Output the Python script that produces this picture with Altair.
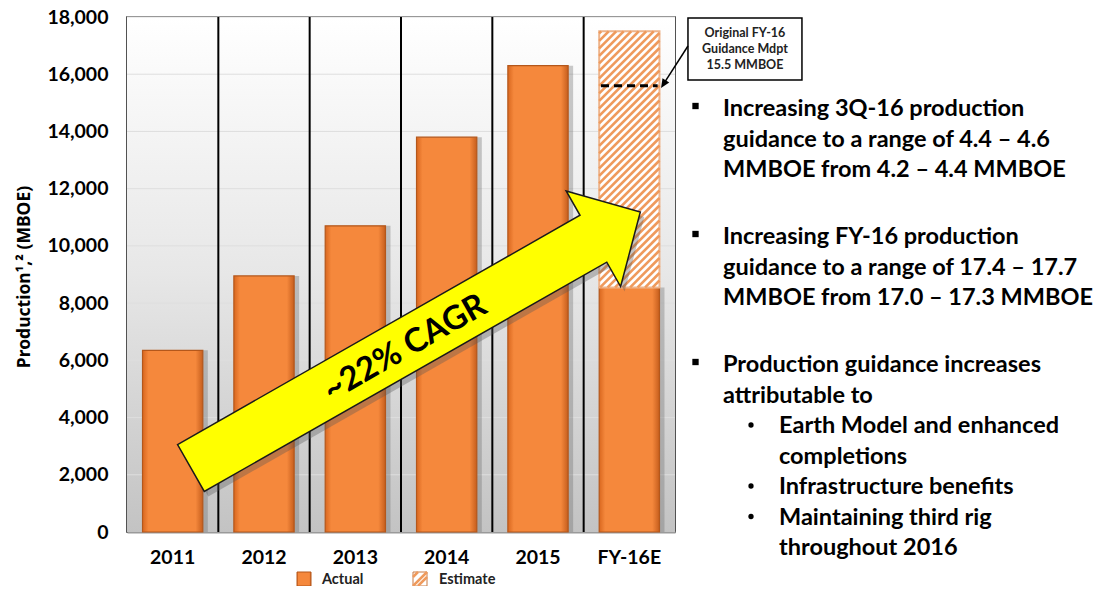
import math
import altair as alt
import pandas as pd

# ---------------- data ----------------
categories = ["2011", "2012", "2013", "2014", "2015", "FY-16E"]
actual = [6350, 8950, 10700, 13800, 16300, 8550]
estimate_category = "FY-16E"
estimate_low = 8550
estimate_high = 17500
guidance_midpoint = 15600
y_ticks = [0, 2000, 4000, 6000, 8000, 10000, 12000, 14000, 16000, 18000]
legend_labels = ["Actual", "Estimate"]
callout_lines = ["Original FY-16", "Guidance Mdpt", "15.5 MMBOE"]
cagr_label = "~22% CAGR"
y_title = "Production\u00b9,\u00b2 (MBOE)"
bullet_items = [
    ("main", ["Increasing 3Q-16 production", "guidance to a range of 4.4 \u2013 4.6", "MMBOE from 4.2 \u2013 4.4 MMBOE"]),
    ("main", ["Increasing FY-16 production", "guidance to a range of 17.4 \u2013 17.7", "MMBOE from 17.0 \u2013 17.3 MMBOE"]),
    ("main", ["Production guidance increases", "attributable to"]),
    ("sub", ["Earth Model and enhanced", "completions"]),
    ("sub", ["Infrastructure benefits"]),
    ("sub", ["Maintaining third rig", "throughout 2016"]),
]

# ---------------- layout ----------------
W, H = 548, 515
N = len(categories)
YMAX = 18000
P_IN, P_OUT = 0.34, 0.17
FONT = "Lato"
ORANGE = "#F5883C"
ORANGE_DARK = "#B4571B"
HATCH = "#EF9A5C"
TXT = 23.5


def px_x(u):
    return u * W / N


def px_y(v):
    return H - v * H / YMAX


def u_of(px):
    return px * N / W


def v_of(py):
    return (H - py) * YMAX / H


y_scale = alt.Scale(domain=[0, YMAX], nice=False, zero=True)
y_axis = alt.Axis(
    values=y_ticks, labelExpr="format(datum.value, ',')", grid=False, ticks=False, domain=False,
    labelFont=FONT, labelFontWeight="bold", labelFontSize=19.5, labelColor="black",
    labelPadding=19, title=y_title, titleFont="Noto Sans", titleFontWeight="bold",
    titleFontSize=17.5, titleColor="black", titleAngle=270, titleX=-103, titleY=H / 2 + 2,
    titleAlign="center", titleBaseline="middle",
)


def Y(field):
    return alt.Y(field, type="quantitative", scale=y_scale, axis=y_axis)


x_scale = alt.Scale(domain=categories, paddingInner=P_IN, paddingOuter=P_OUT)
x_axis = alt.Axis(
    title=None, labelAngle=0, labelFont=FONT, labelFontWeight="bold", labelFontSize=19.5,
    labelColor="black", labelPadding=16, ticks=False, domain=True, domainColor="#9a9a9a",
    domainWidth=2,
)
X = alt.X("cat:N", sort=categories, scale=x_scale, axis=x_axis)

U_SCALE = alt.Scale(domain=[0, N], nice=False, zero=False)


def U(field):
    return alt.X(field, type="quantitative", scale=U_SCALE, axis=None)


one = alt.Data(values=[{}])

# ---------------- base (band) layers ----------------
bar_df = pd.DataFrame({"cat": categories, "value": actual})
est_df = pd.DataFrame({"cat": [estimate_category], "value": [estimate_low], "high": [estimate_high]})
grid_df = pd.DataFrame({"value": y_ticks[1:]})

background = alt.Chart(one).mark_rect(
    color=alt.LinearGradient(
        gradient="linear", x1=0, x2=0, y1=0, y2=1,
        stops=[alt.GradientStop(color="#ffffff", offset=0),
               alt.GradientStop(color="#e7e7e7", offset=0.5),
               alt.GradientStop(color="#c3c3c3", offset=1)],
    )
).encode(x=alt.value(0), x2=alt.value(W), y=alt.value(0), y2=alt.value(H))

grid = alt.Chart(grid_df).mark_rule(color="#dedede", strokeWidth=1).encode(
    y=Y("value"), x=alt.value(0), x2=alt.value(W)
)

shadow = alt.Chart(bar_df).mark_bar(color="#6a6a6a", opacity=0.35, xOffset=5).encode(
    x=X, y=Y("value")
)

bar_fill = alt.LinearGradient(
    gradient="linear", x1=0, x2=1, y1=0, y2=0,
    stops=[alt.GradientStop(color="#D9671F", offset=0),
           alt.GradientStop(color=ORANGE, offset=0.1),
           alt.GradientStop(color=ORANGE, offset=0.88),
           alt.GradientStop(color="#C65E1D", offset=1)],
)
bars = alt.Chart(bar_df).mark_bar(fill=bar_fill, stroke=ORANGE_DARK, strokeWidth=1.2).encode(
    x=X, y=Y("value")
)

est_rect = alt.Chart(est_df).mark_bar(fill="white", stroke="#EDB48C", strokeWidth=2).encode(
    x=X, y=Y("value"), y2="high"
)

base = alt.layer(background, grid, shadow, bars, est_rect)

# ---------------- annotation (continuous x) layers ----------------
est_idx = categories.index(estimate_category)
bx0, bx1 = est_idx + P_OUT, est_idx + 1 - P_OUT

div_df = pd.DataFrame({"u": list(range(1, N))})
dividers = alt.Chart(div_df).mark_rule(color="black", strokeWidth=2).encode(
    x=U("u"), y=alt.value(0), y2=alt.value(H)
)

px0, px1 = px_x(bx0), px_x(bx1)
ptop, pbot = px_y(estimate_high), px_y(estimate_low)
step = 7.5
rows = []
c = ptop + px0 + 2
while c < pbot + px1:
    xs = max(px0, c - pbot)
    xe = min(px1, c - ptop)
    if xe - xs > 0.5:
        rows.append({"u": u_of(xs), "value": v_of(c - xs), "u2": u_of(xe), "v2": v_of(c - xe)})
    c += step
hatch = alt.Chart(pd.DataFrame(rows)).mark_rule(color=HATCH, strokeWidth=2.6).encode(
    x=U("u"), x2="u2", y=Y("value"), y2="v2"
)

guid_df = pd.DataFrame({"u": [bx0 + 0.02], "u2": [bx1 - 0.02], "value": [guidance_midpoint]})
guidance = alt.Chart(guid_df).mark_rule(color="black", strokeWidth=3, strokeDash=[8, 5]).encode(
    x=U("u"), x2="u2", y=Y("value")
)

tail = (0.70, 2237)
tip = (5.62, 11184)
tdx = px_x(tip[0]) - px_x(tail[0])
tdy = px_y(tip[1]) - px_y(tail[1])
L = math.hypot(tdx, tdy)
ang = math.degrees(math.atan2(tdy, tdx)) % 360
hl, hw, sw = 54, 55, 27
half = L / 2
arrow_path = (
    f"M {-half:.1f} {-sw} L {half - hl:.1f} {-sw} L {half - hl:.1f} {-hw} L {half:.1f} 0 "
    f"L {half - hl:.1f} {hw} L {half - hl:.1f} {sw} L {-half:.1f} {sw} Z"
)
arrow_df = pd.DataFrame({"u": [(tail[0] + tip[0]) / 2], "value": [(tail[1] + tip[1]) / 2]})
arrow_shadow = alt.Chart(arrow_df).mark_point(
    shape=arrow_path, size=4, filled=True, fill="#555555", opacity=0.35, strokeWidth=0,
    angle=ang, xOffset=4, yOffset=5,
).encode(x=U("u"), y=Y("value"))
arrow = alt.Chart(arrow_df).mark_point(
    shape=arrow_path, size=4, filled=True, fill="#FFFF00", stroke="#1a1a1a", strokeWidth=1.5,
    opacity=1, angle=ang,
).encode(x=U("u"), y=Y("value"))

cagr_df = pd.DataFrame({"u": [3.044], "value": [6431], "t": [cagr_label]})
cagr = alt.Chart(cagr_df).mark_text(
    font=FONT, fontWeight="bold", fontSize=33, angle=round(ang, 1), align="center",
    baseline="middle", color="black",
).encode(x=U("u"), y=Y("value"), text="t:N")

box_df = pd.DataFrame({"u": [6.142], "u2": [7.39], "value": [17965], "v2": [15798]})
box = alt.Chart(box_df).mark_rect(fill="white", stroke="black", strokeWidth=1.5).encode(
    x=U("u"), x2="u2", y=Y("value"), y2="v2"
)
cl_df = pd.DataFrame({
    "t": callout_lines,
    "u": [6.766] * len(callout_lines),
    "value": [v_of(py - 17) for py in (37, 53, 69)],
})
callout_text = alt.Chart(cl_df).mark_text(
    font=FONT, fontWeight="bold", fontSize=12.5, align="center", baseline="alphabetic",
    color="#222222",
).encode(x=U("u"), y=Y("value"), text="t:N")

c_start = (6.142, 16986)
c_tip = (5.847, 15518)
cdx = px_x(c_tip[0]) - px_x(c_start[0])
cdy = px_y(c_tip[1]) - px_y(c_start[1])
cL = math.hypot(cdx, cdy)
c_end = (u_of(px_x(c_start[0]) + cdx * (cL - 6) / cL), v_of(px_y(c_start[1]) + cdy * (cL - 6) / cL))
conn_df = pd.DataFrame({"u": [c_start[0]], "u2": [c_end[0]], "value": [c_start[1]], "v2": [c_end[1]]})
connector = alt.Chart(conn_df).mark_rule(color="black", strokeWidth=1.5).encode(
    x=U("u"), x2="u2", y=Y("value"), y2="v2"
)
head_angle = math.degrees(math.atan2(-cdx, cdy)) % 360
head_df = pd.DataFrame({"u": [c_tip[0]], "value": [c_tip[1]]})
head = alt.Chart(head_df).mark_point(
    shape="M 0 0 L -4 -9 L 4 -9 Z", size=4, filled=True, fill="black", opacity=1,
    angle=round(head_angle, 1),
).encode(x=U("u"), y=Y("value"))

leg_actual = alt.Chart(one).mark_rect(fill=bar_fill, stroke=ORANGE_DARK, strokeWidth=1).encode(
    x=alt.value(297 - 127), x2=alt.value(311 - 127), y=alt.value(572 - 17), y2=alt.value(586 - 17)
)
leg_est = alt.Chart(one).mark_rect(fill="white", stroke="#C87A45", strokeWidth=1).encode(
    x=alt.value(413 - 127), x2=alt.value(427 - 127), y=alt.value(572 - 17), y2=alt.value(586 - 17)
)
leg_hatch_df = pd.DataFrame({
    "x": [413 - 127, 413 - 127, 418 - 127],
    "x2": [418 - 127, 427 - 127, 427 - 127],
    "y": [577 - 17, 586 - 17, 586 - 17],
    "y2": [572 - 17, 572 - 17, 577 - 17],
})
leg_hatch = alt.Chart(leg_hatch_df).mark_rule(color=HATCH, strokeWidth=2.5).encode(
    x=alt.X("x:Q", scale=None), x2="x2:Q", y=alt.Y("y:Q", scale=None), y2="y2:Q"
)
leg_text_df = pd.DataFrame({"t": legend_labels, "x": [322 - 127, 439 - 127]})
leg_text = alt.Chart(leg_text_df).mark_text(
    font=FONT, fontWeight="bold", fontSize=14.5, align="left", baseline="middle", color="#222222",
).encode(x=alt.X("x:Q", scale=None), y=alt.value(580 - 17), text="t:N")

LINE = 30.5
GAP = 67
text_rows, main_marks, sub_marks = [], [], []
yb = 116
first = True
for kind, lines in bullet_items:
    if not first:
        yb += GAP if kind == "main" else LINE
    first = False
    if kind == "main":
        main_marks.append({"x": 695.5 - 127, "y": yb - 10 - 17})
        tx = 723
    else:
        sub_marks.append({"x": 751 - 127, "y": yb - 8 - 17})
        tx = 779
    for i, ln in enumerate(lines):
        if i > 0:
            yb += LINE
        text_rows.append({"t": ln, "x": tx - 127, "y": yb - 17})

txt = alt.Chart(pd.DataFrame(text_rows)).mark_text(
    font=FONT, fontWeight="bold", fontSize=TXT, align="left", baseline="alphabetic", color="black",
).encode(x=alt.X("x:Q", scale=None), y=alt.Y("y:Q", scale=None), text="t:N")
squares = alt.Chart(pd.DataFrame(main_marks)).mark_point(
    shape="square", size=40, filled=True, fill="black", opacity=1, strokeWidth=0,
).encode(x=alt.X("x:Q", scale=None), y=alt.Y("y:Q", scale=None))
dots = alt.Chart(pd.DataFrame(sub_marks)).mark_point(
    shape="circle", size=28, filled=True, fill="black", opacity=1, strokeWidth=0,
).encode(x=alt.X("x:Q", scale=None), y=alt.Y("y:Q", scale=None))

ann = alt.layer(
    dividers, hatch, guidance, arrow_shadow, arrow, cagr, box, callout_text, connector, head,
    leg_actual, leg_est, leg_hatch, leg_text, txt, squares, dots,
)

chart = (
    alt.layer(base, ann)
    .resolve_scale(x="independent")
    .properties(
        width=W, height=H,
        padding={"left": 119, "top": 9, "right": 1088 - 119 - W, "bottom": 578 - 9 - H},
        autosize=alt.AutoSizeParams(type="none"),
        background="white",
    )
    .configure_view(stroke="#1a1a1a", strokeWidth=1.5)
)

chart.save("out.html", embed_options={"renderer": "svg", "actions": False})
